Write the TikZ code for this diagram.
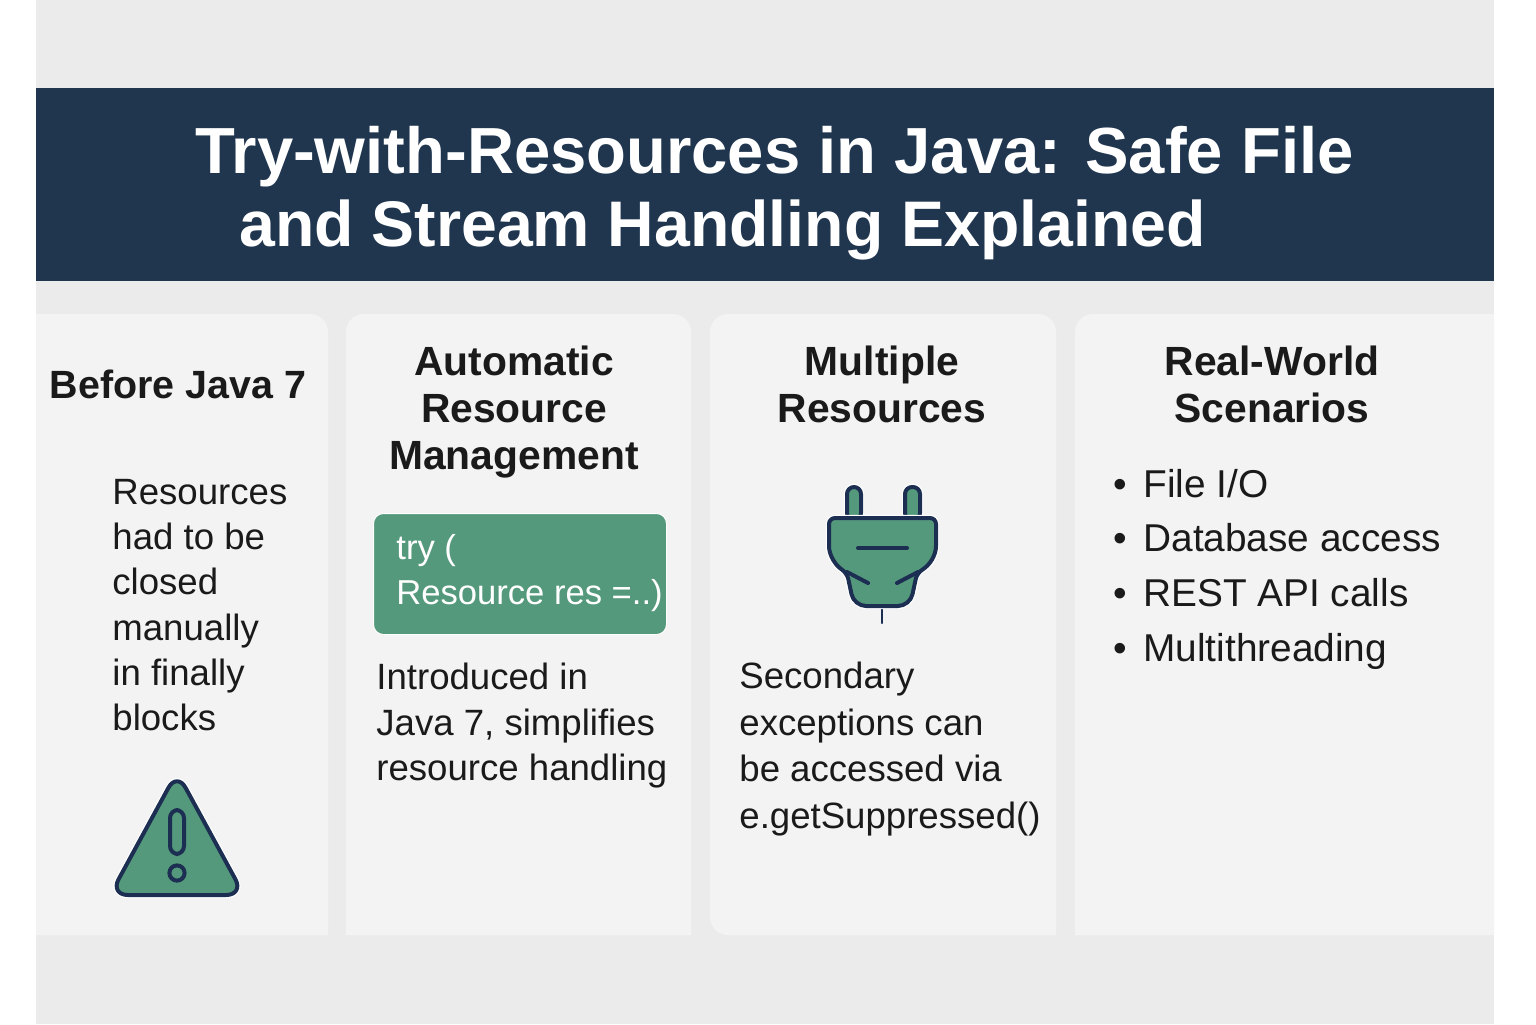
\documentclass[tikz,border=0pt]{standalone}
\usepackage{fontspec}
\setmainfont{Liberation Sans}
\definecolor{pagegray}{HTML}{EBEBEB}
\definecolor{cardgray}{HTML}{F3F3F3}
\definecolor{bannerblue}{HTML}{20364F}
\definecolor{iconnavy}{HTML}{1C2F52}
\definecolor{icongreen}{HTML}{55997C}
\definecolor{inkblack}{HTML}{1A1A1A}

\begin{document}
\begin{tikzpicture}[
x=0.5 pt,
y=-0.5 pt,
card/.style={fill=cardgray},
titletext/.style={anchor=base west, inner sep=0 pt, text=white, font=\fontsize{32.6}{36}\selectfont\bfseries},
headtext/.style={anchor=north, inner sep=0 pt, align=center, text=inkblack, font=\fontsize{20.4}{23.5}\selectfont\bfseries},
bodytext/.style={anchor=north west, inner sep=0 pt, align=left, text=inkblack, font=\fontsize{18.3}{22.6}\selectfont},
itemtext/.style={anchor=base west, inner sep=0 pt, text=inkblack, font=\fontsize{19.4}{22}\selectfont},
icon/.style={fill=icongreen, draw=iconnavy, line width=2 pt, line join=round,
  preaction={draw=white, line width=3.2 pt}},
inner icon/.style={fill=icongreen, draw=iconnavy, line width=2 pt},
iconline/.style={draw=iconnavy, line width=2 pt, line cap=round}
]
\useasboundingbox (0,0) rectangle (1536,1024);

% page and banner
\fill[pagegray] (36,0) rectangle (1494,1024);
\fill[bannerblue] (36,88) rectangle (1494,281);
\node[titletext] at (195,173) (title1) {Try-with-Resources in Java: Safe File};
\node[titletext, font=\fontsize{32.2}{36}\selectfont\bfseries] at (239,246) (title2) {and Stream Handling Explained};

% cards
\fill[card] (36,935) -- (36,314) [rounded corners=9 pt] -- (328,314) [sharp corners] -- (328,935) -- cycle;
\fill[card] (346,935) [rounded corners=9 pt] -- (346,314) -- (691,314) [sharp corners] -- (691,935) -- cycle;
\fill[card, rounded corners=9 pt] (710,935) -- (710,314) -- (1056,314) [sharp corners] -- (1056,935) [rounded corners=9 pt] -- cycle;
\fill[card] (1075,935) [rounded corners=9 pt] -- (1075,314) [sharp corners] -- (1494,314) -- (1494,935) -- cycle;

% headings
\node[headtext, font=\fontsize{19.7}{23.5}\selectfont\bfseries] at (178,370) (head1) {Before Java 7};
\node[headtext] at (514,346) (head2) {Automatic\\Resource\\Management};
\node[headtext] at (882,346) (head3) {Multiple\\Resources};
\node[headtext] at (1272,346) (head4) {Real-World\\Scenarios};

% body text
\node[bodytext] at (112,479) (body1) {Resources\\had to be\\closed\\manually\\in finally\\blocks};
\node[bodytext] at (376,663) (body2) {Introduced in\\Java 7, simplifies\\resource handling};
\node[bodytext, font=\fontsize{18.3}{23.2}\selectfont] at (739,662) (body3) {Secondary\\exceptions can\\be accessed via\\e.getSuppressed()};

% code box
\node[fill=icongreen, draw=white, line width=0.5 pt, rounded corners=5 pt, minimum width=146.5 pt, minimum height=60.5 pt, anchor=north west] at (373,513) (codebox) {};
\node[anchor=north west, inner sep=0 pt, align=left, text=white, font=\fontsize{17.3}{22.5}\selectfont] at (396,534) (code) {try (\\Resource res =..)};

% list
\path[every node/.style={itemtext}]
(1113,497) node (bullet1) {•}
(1143,497) node (item1) {File I/O}
(1113,551) node (bullet2) {•}
(1143,551) node (item2) {Database access}
(1113,606) node (bullet3) {•}
(1143,606) node (item3) {REST API calls}
(1113,661) node (bullet4) {•}
(1143,661) node (item4) {Multithreading}
;

% warning icon
\draw[icon, rounded corners=9 pt] (177,772) -- (244,895) -- (110,895) -- cycle;
\draw[inner icon, rounded corners=4 pt] (170,810) rectangle (184,854);
\draw[inner icon] (177,873) circle (3.8 pt);

% plug icon
\draw[iconline, line width=1.2 pt] (882,607) -- (882,623);
\draw[icon, rounded corners=3.5 pt] (847,520) -- (847,487) -- (861,487) -- (861,520) -- cycle;
\draw[icon, rounded corners=3.5 pt] (905,520) -- (905,487) -- (920,487) -- (920,520) -- cycle;
\draw[icon, rounded corners=3 pt] (829,518) -- (936,518) -- (936,540)
  .. controls (936,555) and (930,565) .. (917,573) [rounded corners=6 pt] -- (910,606) -- (854,606) [rounded corners=3 pt] -- (847,573)
  .. controls (835,565) and (829,555) .. (829,540) -- cycle;
\draw[iconline] (858,548) -- (907,548);
\draw[iconline] (847,572) -- (868,583);
\draw[iconline] (918,572) -- (897,583);
\end{tikzpicture}
\end{document}
